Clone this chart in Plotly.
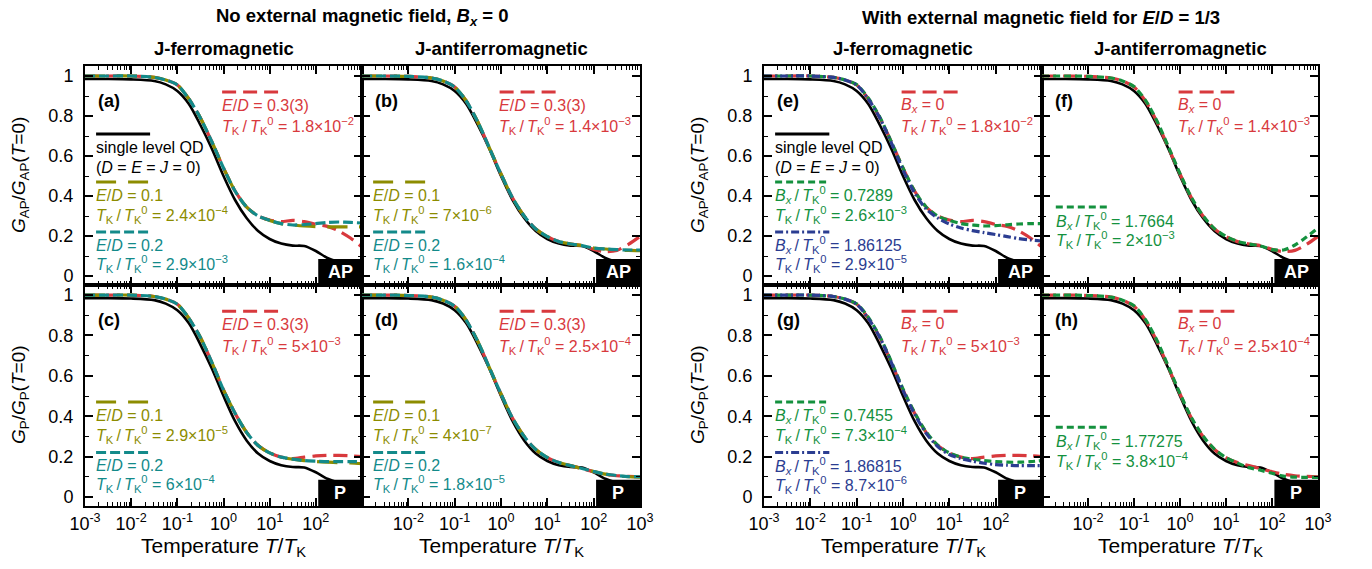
import plotly.graph_objects as go

# ---------------- data ----------------
T = [1e-3, 3.16e-3, 1e-2, 3.16e-2, 5.62e-2, 1e-1, 0.178, 0.316, 0.562, 1.0, 1.78,
     3.16, 5.62, 10.0, 17.8, 31.6, 56.2, 100.0, 178.0, 316.0, 562.0, 1000.0]

black_AP = [0.985, 0.985, 0.983, 0.975, 0.958, 0.925, 0.86, 0.755, 0.635, 0.5, 0.38,
            0.29, 0.225, 0.185, 0.162, 0.152, 0.15, 0.125, 0.09, 0.07, 0.055, 0.05]
black_P = [0.985, 0.985, 0.983, 0.975, 0.958, 0.925, 0.86, 0.755, 0.635, 0.5, 0.375,
           0.28, 0.215, 0.178, 0.157, 0.148, 0.146, 0.122, 0.09, 0.07, 0.055, 0.05]

a_red = [1.0, 1.0, 1.0, 0.993, 0.98, 0.955, 0.885, 0.79, 0.67, 0.54, 0.425,
         0.345, 0.3, 0.28, 0.272, 0.278, 0.272, 0.258, 0.248, 0.225, 0.19, 0.145]
a_olive = [1.0, 1.0, 1.0, 0.993, 0.98, 0.955, 0.885, 0.79, 0.67, 0.54, 0.425,
           0.345, 0.3, 0.278, 0.262, 0.255, 0.25, 0.247, 0.246, 0.246, 0.246, 0.246]
a_teal = [1.0, 1.0, 1.0, 0.993, 0.98, 0.955, 0.885, 0.79, 0.67, 0.54, 0.425,
          0.345, 0.3, 0.278, 0.262, 0.255, 0.257, 0.262, 0.268, 0.27, 0.268, 0.265]

b_red = [1.0, 1.0, 0.998, 0.99, 0.975, 0.945, 0.875, 0.77, 0.64, 0.51, 0.39,
         0.3, 0.235, 0.197, 0.172, 0.16, 0.152, 0.133, 0.122, 0.128, 0.158, 0.198]
b_olive = [1.0, 1.0, 0.998, 0.99, 0.975, 0.945, 0.875, 0.77, 0.64, 0.51, 0.39,
           0.3, 0.235, 0.197, 0.172, 0.16, 0.152, 0.14, 0.135, 0.13, 0.128, 0.127]
b_teal = [1.0, 1.0, 0.998, 0.99, 0.975, 0.945, 0.875, 0.77, 0.64, 0.51, 0.39,
          0.3, 0.235, 0.197, 0.172, 0.16, 0.152, 0.14, 0.135, 0.132, 0.13, 0.13]

c_red = [1.0, 1.0, 1.0, 0.993, 0.98, 0.955, 0.885, 0.79, 0.665, 0.53, 0.415,
         0.32, 0.255, 0.218, 0.197, 0.19, 0.197, 0.203, 0.206, 0.206, 0.204, 0.2]
c_olive = [1.0, 1.0, 1.0, 0.993, 0.98, 0.955, 0.885, 0.79, 0.665, 0.53, 0.415,
           0.32, 0.255, 0.218, 0.197, 0.187, 0.18, 0.175, 0.172, 0.17, 0.168, 0.165]
c_teal = [1.0, 1.0, 1.0, 0.993, 0.98, 0.955, 0.885, 0.79, 0.665, 0.53, 0.415,
          0.32, 0.255, 0.218, 0.197, 0.187, 0.18, 0.177, 0.175, 0.175, 0.175, 0.175]

d_red = [1.0, 1.0, 0.998, 0.99, 0.975, 0.945, 0.875, 0.77, 0.64, 0.51, 0.39,
         0.3, 0.235, 0.195, 0.17, 0.155, 0.14, 0.125, 0.112, 0.105, 0.102, 0.1]
d_olive = [1.0, 1.0, 0.998, 0.99, 0.975, 0.945, 0.875, 0.77, 0.64, 0.51, 0.39,
           0.3, 0.235, 0.195, 0.17, 0.155, 0.14, 0.126, 0.113, 0.105, 0.1, 0.098]
d_teal = [1.0, 1.0, 0.998, 0.99, 0.975, 0.945, 0.875, 0.77, 0.64, 0.51, 0.39,
          0.3, 0.235, 0.195, 0.17, 0.155, 0.141, 0.126, 0.113, 0.106, 0.101, 0.1]

e_green = [1.0, 1.0, 1.0, 0.993, 0.98, 0.957, 0.89, 0.795, 0.67, 0.54, 0.425,
           0.345, 0.3, 0.278, 0.262, 0.255, 0.25, 0.252, 0.256, 0.26, 0.262, 0.262]
e_blue = [1.0, 1.0, 1.0, 0.993, 0.98, 0.955, 0.885, 0.79, 0.665, 0.53, 0.415,
          0.335, 0.29, 0.26, 0.24, 0.227, 0.217, 0.207, 0.197, 0.187, 0.18, 0.175]

f_green = [1.0, 1.0, 0.998, 0.99, 0.975, 0.947, 0.878, 0.775, 0.645, 0.512, 0.392,
           0.302, 0.237, 0.198, 0.173, 0.16, 0.15, 0.132, 0.13, 0.155, 0.195, 0.24]

g_green = [1.0, 1.0, 1.0, 0.993, 0.98, 0.957, 0.89, 0.795, 0.67, 0.535, 0.418,
           0.322, 0.256, 0.218, 0.197, 0.187, 0.18, 0.175, 0.172, 0.172, 0.175, 0.18]
g_blue = [1.0, 1.0, 1.0, 0.993, 0.98, 0.955, 0.885, 0.79, 0.665, 0.528, 0.41,
          0.315, 0.25, 0.21, 0.19, 0.177, 0.167, 0.16, 0.157, 0.155, 0.155, 0.155]

h_green = [1.0, 1.0, 0.998, 0.99, 0.975, 0.947, 0.878, 0.775, 0.645, 0.512, 0.392,
           0.302, 0.237, 0.195, 0.168, 0.145, 0.132, 0.117, 0.103, 0.098, 0.097, 0.097]

x_major = [1e-3, 1e-2, 1e-1, 1, 10, 100, 1000]
x_labels = ["10<sup>-3</sup>", "10<sup>-2</sup>", "10<sup>-1</sup>", "10<sup>0</sup>",
            "10<sup>1</sup>", "10<sup>2</sup>", "10<sup>3</sup>"]
y_major = [0, 0.2, 0.4, 0.6, 0.8, 1]
y_labels = ["0", "0.2", "0.4", "0.6", "0.8", "1"]
y_minor = [0.1, 0.3, 0.5, 0.7, 0.9]
x_minor = [m * 10.0 ** e for e in range(-3, 3) for m in range(2, 10)]

# ---------------- styles ----------------
FONT = "Liberation Sans, Arial, Helvetica, sans-serif"
RED = "#d8393d"
OLIVE = "#8c8c00"
TEAL = "#138a8a"
GREEN = "#14913e"
BLUE = "#2b3d91"
DASH = {RED: "14px,7px", OLIVE: "20px,12px", TEAL: "10px,4px",
        GREEN: "7px,4px", BLUE: "8px,3px,2px,3px"}
NOTE_SIZE = 16

W, H = 1372, 569
colA, colB, colE, colF = (85, 362), (362, 640), (764, 1042), (1042, 1318)
rowT, rowB = (66, 285), (285, 506)

TS = "\u2009"
TK = "<i>T</i><sub>K</sub>" + TS + "/" + TS + "<i>T</i><sub>K</sub><sup>0</sup>"
BXT = "<i>B</i><sub><i>x</i></sub>" + TS + "/" + TS + "<i>T</i><sub>K</sub><sup>0</sup>"
ED = "<i>E</i>/<i>D</i>"
BX0 = "<i>B</i><sub><i>x</i></sub> = 0"
QD1 = "single level QD"
QD2 = "(<i>D</i> = <i>E</i> = <i>J</i> = 0)"

panels = [
    dict(col=colA, row=rowT, lab="(a)", box="AP", black=black_AP,
         curves=[(a_red, RED), (a_olive, OLIVE), (a_teal, TEAL)],
         notes=[("R", 0.92, None, RED), ("R", 0.855, ED + " = 0.3(3)", RED),
                ("R", 0.75, TK + " = 1.8×10<sup>−2</sup>", RED),
                ("L", 0.71, None, "black"), ("L", 0.645, QD1, "black"),
                ("L", 0.545, QD2, "black"),
                ("L", 0.47, None, OLIVE), ("L", 0.405, ED + " = 0.1", OLIVE),
                ("L", 0.305, TK + " = 2.4×10<sup>−4</sup>", OLIVE),
                ("L", 0.22, None, TEAL), ("L", 0.155, ED + " = 0.2", TEAL),
                ("L", 0.062, TK + " = 2.9×10<sup>−3</sup>", TEAL)]),
    dict(col=colB, row=rowT, lab="(b)", box="AP", black=black_AP,
         curves=[(b_red, RED), (b_olive, OLIVE), (b_teal, TEAL)],
         notes=[("R", 0.92, None, RED), ("R", 0.855, ED + " = 0.3(3)", RED),
                ("R", 0.75, TK + " = 1.4×10<sup>−3</sup>", RED),
                ("L", 0.47, None, OLIVE), ("L", 0.405, ED + " = 0.1", OLIVE),
                ("L", 0.305, TK + " = 7×10<sup>−6</sup>", OLIVE),
                ("L", 0.22, None, TEAL), ("L", 0.155, ED + " = 0.2", TEAL),
                ("L", 0.062, TK + " = 1.6×10<sup>−4</sup>", TEAL)]),
    dict(col=colA, row=rowB, lab="(c)", box="P", black=black_P,
         curves=[(c_red, RED), (c_olive, OLIVE), (c_teal, TEAL)],
         notes=[("R", 0.92, None, RED), ("R", 0.855, ED + " = 0.3(3)", RED),
                ("R", 0.75, TK + " = 5×10<sup>−3</sup>", RED),
                ("L", 0.47, None, OLIVE), ("L", 0.405, ED + " = 0.1", OLIVE),
                ("L", 0.305, TK + " = 2.9×10<sup>−5</sup>", OLIVE),
                ("L", 0.22, None, TEAL), ("L", 0.155, ED + " = 0.2", TEAL),
                ("L", 0.062, TK + " = 6×10<sup>−4</sup>", TEAL)]),
    dict(col=colB, row=rowB, lab="(d)", box="P", black=black_P,
         curves=[(d_red, RED), (d_olive, OLIVE), (d_teal, TEAL)],
         notes=[("R", 0.92, None, RED), ("R", 0.855, ED + " = 0.3(3)", RED),
                ("R", 0.75, TK + " = 2.5×10<sup>−4</sup>", RED),
                ("L", 0.47, None, OLIVE), ("L", 0.405, ED + " = 0.1", OLIVE),
                ("L", 0.305, TK + " = 4×10<sup>−7</sup>", OLIVE),
                ("L", 0.22, None, TEAL), ("L", 0.155, ED + " = 0.2", TEAL),
                ("L", 0.062, TK + " = 1.8×10<sup>−5</sup>", TEAL)]),
    dict(col=colE, row=rowT, lab="(e)", box="AP", black=black_AP,
         curves=[(a_red, RED), (e_green, GREEN), (e_blue, BLUE)],
         notes=[("R", 0.92, None, RED), ("R", 0.855, BX0, RED),
                ("R", 0.75, TK + " = 1.8×10<sup>−2</sup>", RED),
                ("L", 0.71, None, "black"), ("L", 0.645, QD1, "black"),
                ("L", 0.545, QD2, "black"),
                ("L", 0.47, None, GREEN), ("L", 0.405, BXT + " = 0.7289", GREEN),
                ("L", 0.305, TK + " = 2.6×10<sup>−3</sup>", GREEN),
                ("L", 0.22, None, BLUE), ("L", 0.155, BXT + " = 1.86125", BLUE),
                ("L", 0.058, TK + " = 2.9×10<sup>−5</sup>", BLUE)]),
    dict(col=colF, row=rowT, lab="(f)", box="AP", black=black_AP,
         curves=[(b_red, RED), (f_green, GREEN)],
         notes=[("R", 0.92, None, RED), ("R", 0.855, BX0, RED),
                ("R", 0.75, TK + " = 1.4×10<sup>−3</sup>", RED),
                ("L2", 0.345, None, GREEN), ("L2", 0.275, BXT + " = 1.7664", GREEN),
                ("L2", 0.18, TK + " = 2×10<sup>−3</sup>", GREEN)]),
    dict(col=colE, row=rowB, lab="(g)", box="P", black=black_P,
         curves=[(c_red, RED), (g_green, GREEN), (g_blue, BLUE)],
         notes=[("R", 0.92, None, RED), ("R", 0.855, BX0, RED),
                ("R", 0.75, TK + " = 5×10<sup>−3</sup>", RED),
                ("L", 0.47, None, GREEN), ("L", 0.405, BXT + " = 0.7455", GREEN),
                ("L", 0.305, TK + " = 7.3×10<sup>−4</sup>", GREEN),
                ("L", 0.22, None, BLUE), ("L", 0.155, BXT + " = 1.86815", BLUE),
                ("L", 0.058, TK + " = 8.7×10<sup>−6</sup>", BLUE)]),
    dict(col=colF, row=rowB, lab="(h)", box="P", black=black_P,
         curves=[(d_red, RED), (h_green, GREEN)],
         notes=[("R", 0.92, None, RED), ("R", 0.855, BX0, RED),
                ("R", 0.75, TK + " = 2.5×10<sup>−4</sup>", RED),
                ("L2", 0.345, None, GREEN), ("L2", 0.275, BXT + " = 1.77275", GREEN),
                ("L2", 0.18, TK + " = 3.8×10<sup>−4</sup>", GREEN)]),
]

XSIDE = {"L": (0.04, 0.235), "L2": (0.05, 0.24), "R": (0.495, 0.697)}
YR = [-0.045, 1.05]

fig = go.Figure()
layout = dict(width=W, height=H, autosize=False, margin=dict(l=0, r=0, t=0, b=0, pad=0),
              plot_bgcolor="white", paper_bgcolor="white", showlegend=False,
              font=dict(family=FONT, size=16, color="black"))
annotations, shapes = [], []

for i, p in enumerate(panels):
    n = i + 1
    sx = "" if n == 1 else str(n)
    xa, ya = "x" + sx, "y" + sx
    c0, c1 = p["col"]
    r0, r1 = p["row"]
    bottom = p["row"] == rowB
    leftmost = p["col"] in (colA, colE)
    if bottom:
        if p["col"] in (colA, colE):
            xt = x_labels[:-1] + [""]
        else:
            xt = [""] + x_labels[1:]
    else:
        xt = [""] * len(x_labels)
    layout["xaxis" + sx] = dict(
        type="log", range=[-3, 3], domain=[c0 / W, c1 / W], anchor=ya,
        automargin=False,
        showline=True, linewidth=2, linecolor="black", mirror="allticks",
        ticks="inside", ticklen=8, tickwidth=1.5, tickcolor="black",
        tickmode="array", tickvals=x_major, ticktext=xt,
        showticklabels=bottom, tickfont=dict(size=18, family=FONT),
        minor=dict(tickmode="array", tickvals=x_minor, ticks="inside", ticklen=4,
                   tickwidth=1, tickcolor="black", showgrid=False),
        showgrid=False, zeroline=False, fixedrange=True)
    layout["yaxis" + sx] = dict(
        range=YR, domain=[1 - r1 / H, 1 - r0 / H], anchor=xa,
        automargin=False,
        showline=True, linewidth=2, linecolor="black", mirror="allticks",
        ticks="inside", ticklen=8, tickwidth=1.5, tickcolor="black",
        tickmode="array", tickvals=y_major, ticktext=y_labels,
        showticklabels=leftmost, tickfont=dict(size=18, family=FONT),
        ticklabelstandoff=6,
        minor=dict(tickmode="array", tickvals=y_minor, ticks="inside", ticklen=4,
                   tickwidth=1, tickcolor="black", showgrid=False),
        showgrid=False, zeroline=False, fixedrange=True)

    fig.add_trace(go.Scatter(x=T, y=p["black"], mode="lines", xaxis=xa, yaxis=ya,
                             line=dict(color="black", width=2.6, shape="spline", smoothing=0.8)))
    for yv, col in p["curves"]:
        fig.add_trace(go.Scatter(x=T, y=yv, mode="lines", xaxis=xa, yaxis=ya,
                                 line=dict(color=col, width=3.2, dash=DASH[col],
                                           shape="spline", smoothing=0.8)))

    # corner box
    shapes.append(dict(type="rect", xref=xa + " domain", yref=ya + " domain",
                       x0=0.842, x1=1.0, y0=0.0, y1=0.119, fillcolor="black",
                       line=dict(width=0), layer="above"))
    annotations.append(dict(xref=xa + " domain", yref=ya + " domain", x=0.921, y=0.06,
                            text="<b>%s</b>" % p["box"], showarrow=False,
                            font=dict(color="white", size=18, family=FONT),
                            xanchor="center", yanchor="middle"))
    # panel label
    annotations.append(dict(xref=xa + " domain", yref=ya, x=0.04, y=0.875,
                            text="<b>%s</b>" % p["lab"], showarrow=False,
                            font=dict(size=18, family=FONT), xanchor="left", yanchor="middle"))
    for side, yv, txt, col in p["notes"]:
        x0, x1 = XSIDE[side]
        if txt is None:
            dash = "solid" if col == "black" else DASH[col]
            shapes.append(dict(type="line", xref=xa + " domain", yref=ya, x0=x0, x1=x1,
                               y0=yv, y1=yv, line=dict(color=col, width=3, dash=dash)))
        else:
            annotations.append(dict(xref=xa + " domain", yref=ya, x=x0 - 0.008, y=yv,
                                    text=txt, showarrow=False, xanchor="left",
                                    yanchor="middle",
                                    font=dict(size=NOTE_SIZE, color=col, family=FONT)))


def paper_text(xpx, ypx, text, size, angle=0):
    annotations.append(dict(xref="paper", yref="paper", x=xpx / W, y=1 - ypx / H,
                            text=text, showarrow=False, textangle=angle,
                            xanchor="center", yanchor="middle",
                            font=dict(size=size, family=FONT, color="black")))


paper_text(362, 17, "<b>No external magnetic field, <i>B</i><sub><i>x</i></sub> = 0</b>", 18.5)
paper_text(1041, 17, "<b>With external magnetic field for <i>E</i>/<i>D</i> = 1/3</b>", 18.5)
for c, t in [(colA, "J-ferromagnetic"), (colB, "J-antiferromagnetic"),
             (colE, "J-ferromagnetic"), (colF, "J-antiferromagnetic")]:
    paper_text((c[0] + c[1]) / 2, 48, "<b>%s</b>" % t, 18.5)
    paper_text((c[0] + c[1]) / 2, 547, "Temperature <i>T</i>/<i>T</i><sub>K</sub>", 21)
for xc in (20, 699):
    paper_text(xc, 175, "<i>G</i><sub>AP</sub>/<i>G</i><sub>AP</sub>(<i>T</i>=0)", 19, -90)
    paper_text(xc, 395, "<i>G</i><sub>P</sub>/<i>G</i><sub>P</sub>(<i>T</i>=0)", 19, -90)

layout["annotations"] = annotations
layout["shapes"] = shapes
fig.update_layout(**layout)
fig.write_html("out.html", config={"displayModeBar": False},
               post_script="document.body.style.margin='0';document.body.style.padding='0';")
